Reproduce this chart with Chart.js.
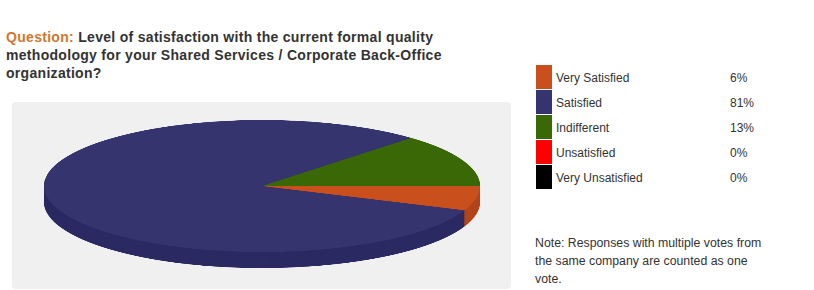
<!DOCTYPE html>
<html>
<head>
<meta charset="utf-8">
<script src="https://cdn.jsdelivr.net/npm/chart.js@4.4.0/dist/chart.umd.min.js"></script>
<style>
  body { margin: 0; background: #fff; font-family: "Liberation Sans", Arial, sans-serif; }
  #wrap { position: relative; width: 814px; height: 290px; overflow: hidden; }
  #title { position: absolute; left: 6px; top: 28px; width: 500px; font-size: 14px; font-weight: bold; line-height: 18px; color: #333; letter-spacing: 0.3px; }
  #title span { color: #d2772f; }
  #panel { position: absolute; left: 12px; top: 102px; width: 499px; height: 187px; background: #f0f0f0; border-radius: 4px; }
  #pieBox { position: absolute; left: 44px; top: 120px; width: 436px; height: 150px; }
  #pie { transform: scaleY(0.3028); transform-origin: 0 0; }
  #legend { position: absolute; left: 536px; top: 65px; }
  .row { position: relative; height: 25px; width: 240px; font-size: 12px; color: #333; }
  .sw { position: absolute; left: 0; top: 0; width: 16px; height: 24px; }
  .lb { position: absolute; left: 20px; top: 6px; }
  .pc { position: absolute; left: 194px; top: 6px; }
  #note { position: absolute; left: 535px; top: 234px; width: 270px; font-size: 12.3px; line-height: 18px; color: #333; }
</style>
</head>
<body>
<div id="wrap">
  <div id="title"><span>Question:</span> Level of satisfaction with the current formal quality methodology for your Shared Services / Corporate Back-Office organization?</div>
  <div id="panel"></div>
  <div id="pieBox"><canvas id="pie" width="436" height="489"></canvas></div>
  <div id="legend"></div>
  <div id="note">Note: Responses with multiple votes from<br>the same company are counted as one<br>vote.</div>
</div>
<script>
const labels = ["Very Satisfied", "Satisfied", "Indifferent", "Unsatisfied", "Very Unsatisfied"];
const values = [6, 81, 13, 0, 0];
const topColors = ["#c94f1c", "#35346f", "#3a6806", "#ff0000", "#000000"];
const sideColors = ["#b3451a", "#2b2a63", "#2f5505", "#cc0000", "#000000"];

// legend rows
const legend = document.getElementById("legend");
labels.forEach((name, i) => {
  const row = document.createElement("div");
  row.className = "row";
  row.innerHTML = `<div class="sw" style="background:${topColors[i]}"></div>
    <div class="lb">${name}</div><div class="pc">${values[i]}%</div>`;
  legend.appendChild(row);
});

// depth of the pie side in canvas units (squashed by the css scale)
const depth = 53;

const sidePlugin = {
  id: "side",
  beforeDatasetsDraw(chart) {
    const ctx = chart.ctx;
    const arcs = chart.getDatasetMeta(0).data;
    for (let off = depth; off > 0; off -= 2) {
      arcs.forEach((arc, i) => {
        const p = arc.getProps(["x", "y", "startAngle", "endAngle", "outerRadius"], true);
        if (p.endAngle - p.startAngle <= 0) return;
        ctx.beginPath();
        ctx.moveTo(p.x, p.y + off);
        ctx.arc(p.x, p.y + off, p.outerRadius, p.startAngle, p.endAngle);
        ctx.closePath();
        ctx.fillStyle = sideColors[i];
        ctx.fill();
      });
    }
  }
};

new Chart(document.getElementById("pie"), {
  type: "pie",
  data: {
    labels: labels,
    datasets: [{
      data: values,
      backgroundColor: topColors,
      borderWidth: 0
    }]
  },
  options: {
    responsive: false,
    animation: false,
    rotation: 90,
    layout: { padding: { bottom: depth } },
    plugins: { legend: { display: false }, tooltip: { enabled: false } },
    events: []
  },
  plugins: [sidePlugin]
});
</script>
</body>
</html>
